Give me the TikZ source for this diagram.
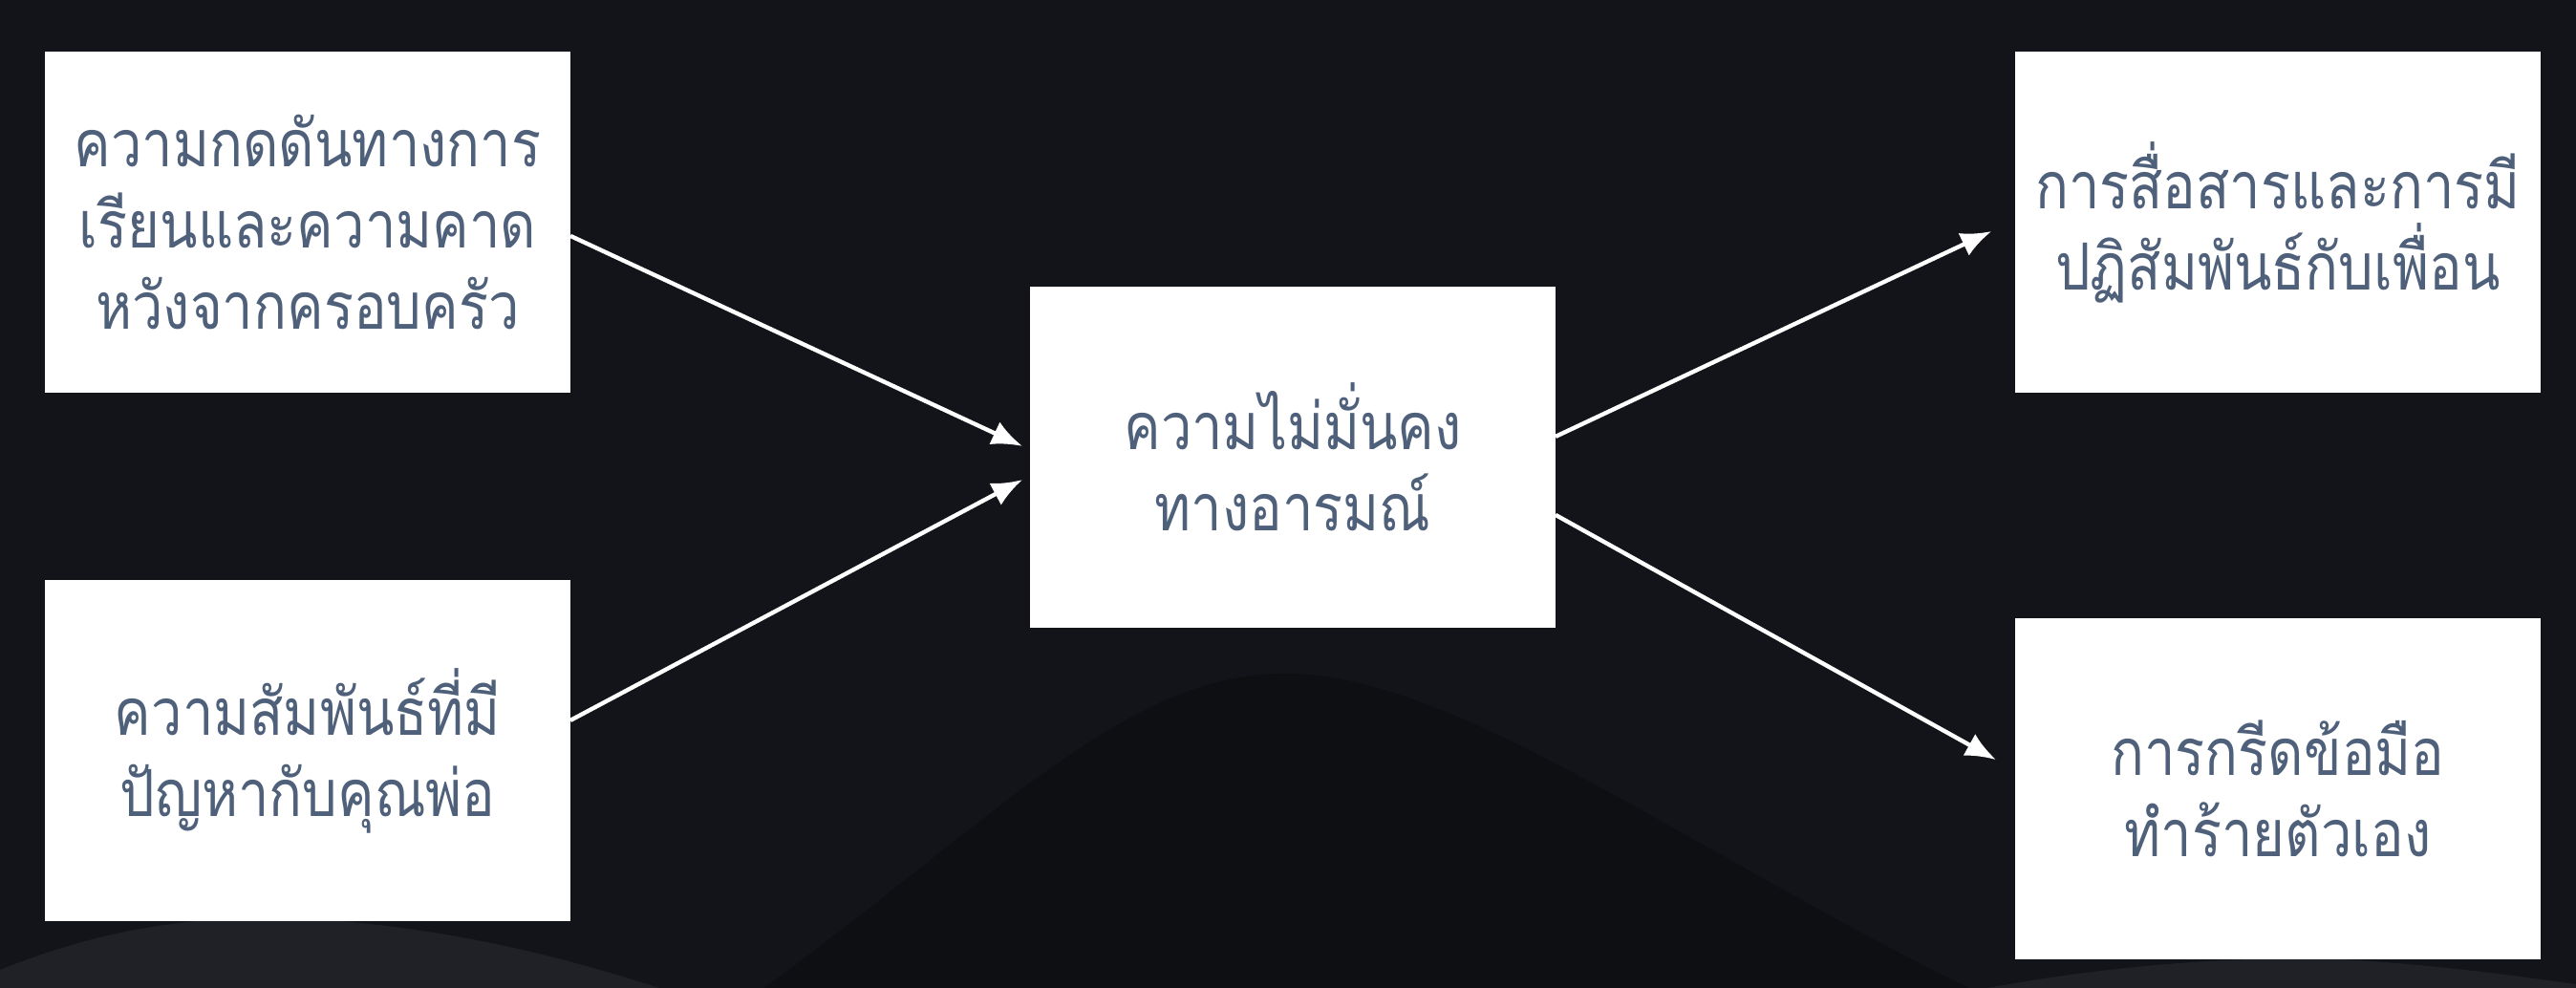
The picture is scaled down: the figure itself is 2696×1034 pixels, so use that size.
\documentclass[tikz,border=0pt]{standalone}
\usepackage{fontspec}
\newfontfamily\thaifont[Script=Thai,FakeStretch=0.85]{Loma}
\usetikzlibrary{arrows.meta,positioning}
\definecolor{bgdark}{HTML}{131419}
\definecolor{bghump}{HTML}{0E0F13}
\definecolor{bgwave}{HTML}{202127}
\definecolor{boxtext}{HTML}{4F607A}

\begin{document}
\begin{tikzpicture}[x=0.25pt,y=-0.25pt,->,>={Latex[length=8pt,width=6.5pt]},line width=1.1pt,
  node distance=49pt and 120.25pt,
  every node/.style={font=\thaifont\fontsize{17pt}{21.25pt}\selectfont},
  box/.style={fill=white,text=boxtext,align=center,minimum width=137.5pt,minimum height=89.25pt,inner sep=0pt,outer sep=0pt}]
  % background
  \fill[bgdark] (0,0) rectangle (2696,1034);
  \fill[bghump] (800,1034) .. controls (1050,850) and (1180,705) .. (1345,705) .. controls (1520,705) and (1750,880) .. (2060,1034) -- cycle;
  \fill[bgwave] (0,1034) -- (0,1015) .. controls (100,975) and (200,955) .. (330,962) .. controls (480,972) and (600,1005) .. (690,1034) -- cycle;
  \fill[bgwave] (2080,1034) .. controls (2200,1012) and (2330,1000) .. (2450,1004) .. controls (2560,1010) and (2650,1024) .. (2696,1030) -- (2696,1034) -- cycle;
  \useasboundingbox (0,0) rectangle (2696,1034);
  % boxes
  \node[box] (lt) at (322,232.5) {ความกดดันทางการ\\เรียนและความคาด\\หวังจากครอบครัว};
  \node[box] (lb) [below=of lt] {ความสัมพันธ์ที่มี\\ปัญหากับคุณพ่อ};
  \node[box] (mid) [right=of lt,yshift=-61.5pt] {ความไม่มั่นคง\\ทางอารมณ์};
  \node[box] (rt) [right=of mid,yshift=61.5pt] {การสื่อสารและการมี\\ปฏิสัมพันธ์กับเพื่อน};
  \node[box] (rb) [below=59pt of rt] {การกรีดข้อมือ\\ทำร้ายตัวเอง};
  % arrows
  \draw[white] ([yshift=-3.6pt]lt.east) -- ([xshift=-2pt,yshift=2.9pt]mid.west);
  \draw[white] ([yshift=7.9pt]lb.east) -- ([xshift=-2pt,yshift=-5.9pt]mid.west);
  \draw[white] ([yshift=5.4pt]mid.east) -- ([xshift=-6.2pt,yshift=-2.4pt]rt.west);
  \draw[white] ([yshift=-15.1pt]mid.east) -- ([xshift=-5pt,yshift=7.6pt]rb.west);
\end{tikzpicture}
\end{document}
